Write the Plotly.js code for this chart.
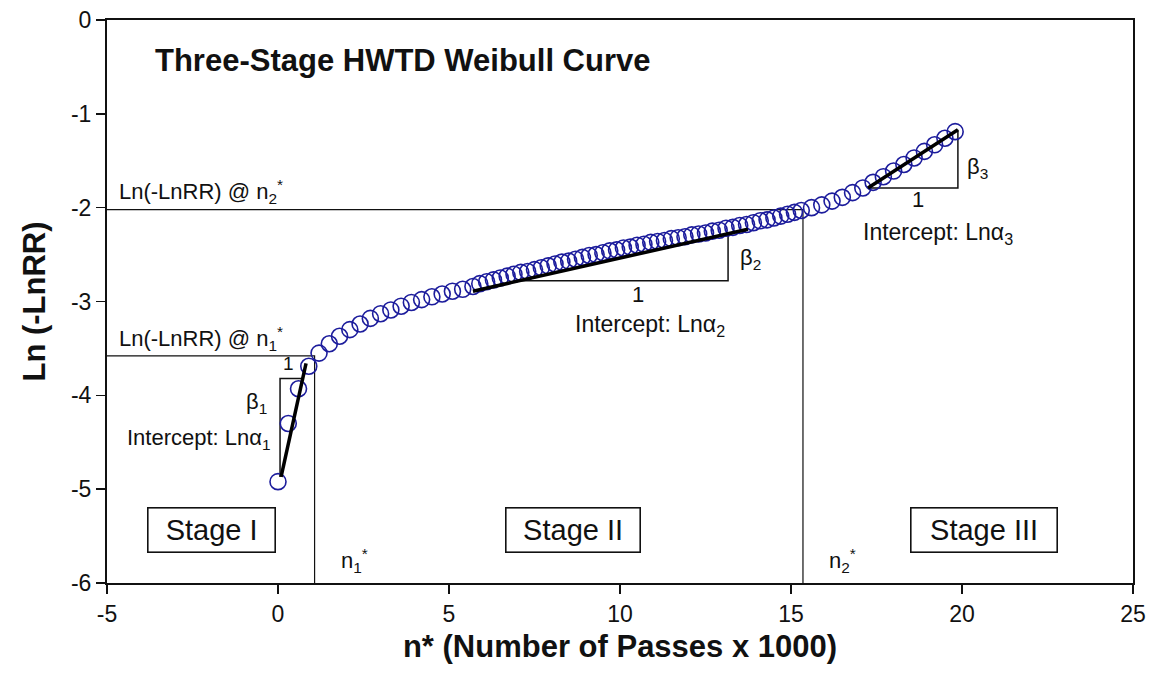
<!DOCTYPE html>
<html>
<head>
<meta charset="utf-8">
<script src="https://cdn.plot.ly/plotly-3.0.1.min.js"></script>
<style>
  html, body { margin: 0; padding: 0; background: #ffffff; }
  #chart { width: 1154px; height: 675px; }
</style>
</head>
<body>
<div id="chart"></div>
<script>
// Measured Weibull transform: n* (passes x 1000) vs Ln(-LnRR)
const passes = [
  0, 0.3, 0.6, 0.9,
  1.2, 1.5, 1.8, 2.1, 2.4, 2.7, 3.0, 3.3, 3.6, 3.9, 4.2, 4.5, 4.8, 5.1, 5.4, 5.7,
  5.9, 6.1, 6.3, 6.5, 6.7, 6.9, 7.1, 7.3, 7.5, 7.7, 7.9, 8.1, 8.3, 8.5, 8.7, 8.9,
  9.1, 9.3, 9.5, 9.7, 9.9, 10.1, 10.3, 10.5, 10.7, 10.9, 11.1, 11.3, 11.5, 11.7, 11.9,
  12.1, 12.3, 12.5, 12.7, 12.9, 13.1, 13.3, 13.5, 13.7, 13.9, 14.1, 14.3, 14.5, 14.7, 14.9,
  15.1, 15.3,
  15.6, 15.9, 16.2, 16.5, 16.8, 17.1, 17.4, 17.7, 18.0, 18.3, 18.6, 18.9, 19.2, 19.5, 19.8
];
const lnLnRR = [
  -4.92, -4.30, -3.93, -3.69,
  -3.55, -3.45, -3.37, -3.30, -3.24, -3.18, -3.13, -3.09, -3.05, -3.01, -2.98, -2.95, -2.92, -2.89, -2.87, -2.84,
  -2.81, -2.79, -2.77, -2.75, -2.73, -2.71, -2.69, -2.68, -2.66, -2.64, -2.62, -2.60, -2.58, -2.57, -2.55, -2.53,
  -2.51, -2.50, -2.48, -2.46, -2.45, -2.43, -2.42, -2.40, -2.39, -2.37, -2.36, -2.35, -2.33, -2.32, -2.31,
  -2.29, -2.28, -2.27, -2.25, -2.24, -2.22, -2.21, -2.19, -2.18, -2.16, -2.14, -2.13, -2.11, -2.09, -2.07,
  -2.05, -2.03,
  -2.00, -1.97, -1.93, -1.89, -1.84, -1.79, -1.73, -1.67, -1.61, -1.54, -1.47, -1.40, -1.33, -1.26, -1.19
];

// Stage transition points n1*, n2* and the curve value at each
const nStar = [1.07, 15.35];
const lnAtNStar = [-3.58, -2.02];

// Linear fits for each stage: [start, end]
const fit1X = [0.09, 0.82],  fit1Y = [-4.87, -3.66];
const fit2X = [5.7, 13.74],  fit2Y = [-2.89, -2.23];
const fit3X = [17.25, 19.88], fit3Y = [-1.79, -1.17];

// Slope triangles (corner points)
const tri1X = [0.06, 0.06, 0.70],   tri1Y = [-4.87, -3.82, -3.82];
const tri2X = [7.1, 13.16, 13.16],  tri2Y = [-2.78, -2.78, -2.28];
const tri3X = [17.25, 19.88, 19.88], tri3Y = [-1.79, -1.79, -1.17];

// Axis ticks (plain hyphen minus signs)
const xTickVals = [-5, 0, 5, 10, 15, 20, 25];
const xTickText = ['-5', '0', '5', '10', '15', '20', '25'];
const yTickVals = [0, -1, -2, -3, -4, -5, -6];
const yTickText = ['0', '-1', '-2', '-3', '-4', '-5', '-6'];

const X_MIN = -5, X_MAX = 25, Y_MIN = -6, Y_MAX = 0;
const FONT = 'Liberation Sans, Arial, Helvetica, sans-serif';
const INK = '#111111';

const traces = [
  // horizontal + vertical guides at n1*, n2*
  ...nStar.map((n, i) => ({
    x: [X_MIN, n, n], y: [lnAtNStar[i], lnAtNStar[i], Y_MIN],
    mode: 'lines', line: { color: INK, width: 1.2 }, hoverinfo: 'skip'
  })),
  // slope triangles
  ...[[tri1X, tri1Y], [tri2X, tri2Y], [tri3X, tri3Y]].map(([tx, ty]) => ({
    x: tx, y: ty, mode: 'lines', line: { color: INK, width: 1.5 }, hoverinfo: 'skip'
  })),
  // measured points
  {
    x: passes, y: lnLnRR, mode: 'markers',
    marker: { symbol: 'circle-open', size: 16, color: '#1c1c9c', line: { width: 1.6, color: '#1c1c9c' } }
  },
  // stage fits
  ...[[fit1X, fit1Y], [fit2X, fit2Y], [fit3X, fit3Y]].map(([fx, fy]) => ({
    x: fx, y: fy, mode: 'lines', line: { color: '#000000', width: 3.5 }, hoverinfo: 'skip'
  }))
];

function label(text, x, y, opts) {
  return Object.assign({
    text: text, x: x, y: y, xref: 'x', yref: 'y', showarrow: false,
    font: { family: FONT, size: 22, color: INK }, xanchor: 'center', yanchor: 'middle'
  }, opts || {});
}
function stageBox(text, x, w) {
  return label(text, x, -5.44, {
    font: { family: FONT, size: 29, color: INK },
    bordercolor: INK, borderwidth: 1.6, borderpad: 1,
    width: w, height: 41, bgcolor: '#ffffff'
  });
}

const annotations = [
  label('<b>Three-Stage HWTD Weibull Curve</b>', -3.65, -0.43, { xanchor: 'left', font: { family: FONT, size: 31, color: INK } }),
  label('Ln(-LnRR) @ n<sub>2</sub><sup>*</sup>', -4.7, -1.83, { xanchor: 'left' }),
  label('Ln(-LnRR) @ n<sub>1</sub><sup>*</sup>', -4.7, -3.39, { xanchor: 'left' }),
  label('1', 0.32, -3.66, { font: { family: FONT, size: 19, color: INK } }),
  label('β<sub>1</sub>', -0.62, -4.08),
  label('Intercept: Lnα<sub>1</sub>', -0.15, -4.46, { xanchor: 'right' }),
  label('β<sub>2</sub>', 13.45, -2.55, { xanchor: 'left' }),
  label('1', 10.53, -2.93),
  label('Intercept: Lnα<sub>2</sub>', 10.88, -3.26, { font: { family: FONT, size: 23, color: INK } }),
  label('β<sub>3</sub>', 20.1, -1.58, { xanchor: 'left' }),
  label('1', 18.71, -1.91),
  label('Intercept: Lnα<sub>3</sub>', 19.3, -2.27, { font: { family: FONT, size: 23, color: INK } }),
  label('n<sub>1</sub><sup>*</sup>', 2.25, -5.76),
  label('n<sub>2</sub><sup>*</sup>', 16.5, -5.76),
  stageBox('Stage I', -1.93, 124),
  stageBox('Stage II', 8.63, 131),
  stageBox('Stage III', 20.64, 143)
];

const axisCommon = {
  showgrid: false, zeroline: false,
  showline: true, mirror: true, linecolor: INK, linewidth: 2,
  ticks: 'outside', ticklen: 9, tickwidth: 1.6, tickcolor: INK,
  tickfont: { family: FONT, size: 23, color: INK }
};

const layout = {
  width: 1154, height: 675,
  margin: { l: 107, r: 21, t: 20, b: 92 },
  paper_bgcolor: '#ffffff', plot_bgcolor: '#ffffff',
  showlegend: false,
  xaxis: Object.assign({}, axisCommon, {
    range: [X_MIN, X_MAX], tickmode: 'array', tickvals: xTickVals, ticktext: xTickText,
    title: { text: '<b>n* (Number of Passes x 1000)</b>', font: { family: FONT, size: 31, color: INK }, standoff: 10 }
  }),
  yaxis: Object.assign({}, axisCommon, {
    range: [Y_MIN, Y_MAX], tickmode: 'array', tickvals: yTickVals, ticktext: yTickText,
    title: { text: '<b>Ln (-LnRR)</b>', font: { family: FONT, size: 31, color: INK }, standoff: 16 }
  }),
  annotations: annotations
};

Plotly.newPlot('chart', traces, layout, { staticPlot: true, displayModeBar: false });
</script>
</body>
</html>
